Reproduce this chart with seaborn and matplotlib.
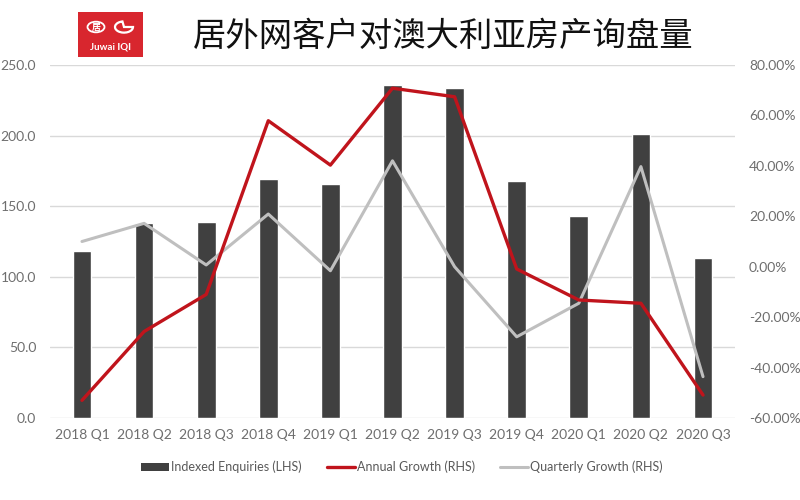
import numpy as np
import pandas as pd
import matplotlib
matplotlib.use("Agg")
import matplotlib.pyplot as plt
from matplotlib.patches import Rectangle, Patch, Circle, Wedge
from matplotlib.lines import Line2D
from matplotlib.ticker import FuncFormatter
import seaborn as sns

# ---- data ----
quarters = ["2018 Q1", "2018 Q2", "2018 Q3", "2018 Q4", "2019 Q1", "2019 Q2",
            "2019 Q3", "2019 Q4", "2020 Q1", "2020 Q2", "2020 Q3"]
indexed_enquiries = [118, 138, 139, 169, 165.5, 236, 234, 168, 143, 201, 113]
annual_growth = [-0.53, -0.257, -0.11, 0.579, 0.403, 0.708, 0.674, -0.009, -0.132, -0.145, -0.509]
quarterly_growth = [0.10, 0.172, 0.007, 0.209, -0.016, 0.42, 0.0, -0.278, -0.145, 0.397, -0.436]
left_ticks = [0, 50, 100, 150, 200, 250]
right_ticks = [-0.6, -0.4, -0.2, 0.0, 0.2, 0.4, 0.6, 0.8]
title = "居外网客户对澳大利亚房产询盘量"
legend_labels = ["Indexed Enquiries (LHS)", "Annual Growth (RHS)", "Quarterly Growth (RHS)"]

df = pd.DataFrame({"quarter": quarters, "enq": indexed_enquiries,
                   "annual": annual_growth, "qoq": quarterly_growth})

sns.set_theme(style="white")
plt.rcParams["font.family"] = ["Lato", "DejaVu Sans"]

BAR = "#404040"
RED = "#c0141c"
GREY = "#bfbfbf"
TXT = "#6e6e6e"
GRID = "#d9d9d9"

W, H = 800, 500
fig = plt.figure(figsize=(8, 5), dpi=100)
fig.patch.set_facecolor("white")
L, R, T, B = 50, 735, 65, 418
ax = fig.add_axes([L / W, 1 - B / H, (R - L) / W, (B - T) / H])

sns.barplot(data=df, x="quarter", y="enq", color=BAR, width=0.3, ax=ax,
            saturation=1, zorder=2)
ax.set_ylim(0, 250)
ax.set_yticks(left_ticks)
ax.yaxis.set_major_formatter(FuncFormatter(lambda v, p: f"{v:.1f}"))
ax.grid(axis="y", color=GRID, linewidth=1.0, zorder=0)
ax.set_axisbelow(True)
for s in ax.spines.values():
    s.set_visible(False)
ax.set_xlabel("")
ax.set_ylabel("")
ax.tick_params(axis="y", length=0, pad=10, labelsize=10, labelcolor=TXT)
ax.tick_params(axis="x", length=0, pad=8, labelsize=10, labelcolor=TXT)

ax2 = ax.twinx()
sns.pointplot(data=df, x="quarter", y="qoq", color=GREY, markers="", linewidth=2.2,
              ax=ax2, zorder=3)
sns.pointplot(data=df, x="quarter", y="annual", color=RED, markers="", linewidth=2.4,
              ax=ax2, zorder=4)
ax2.set_ylim(-0.6, 0.8)
ax2.set_yticks(right_ticks)
ax2.yaxis.set_major_formatter(FuncFormatter(lambda v, p: f"{v * 100:.2f}%"))
for s in ax2.spines.values():
    s.set_visible(False)
ax2.set_xlabel("")
ax2.set_ylabel("")
ax2.grid(False)
ax2.tick_params(axis="y", length=0, pad=10, labelsize=10, labelcolor=TXT)
ax2.tick_params(axis="x", length=0, labelbottom=False)
ax.set_xlim(-0.515, 10.515)
ax2.set_xlim(-0.515, 10.515)
ax.set_xticks(range(len(quarters)))
ax.set_xticklabels(quarters)

# title
fig.text(0.554, 0.928, title, ha="center", va="center", fontsize=24,
         color="#111111", family=["Noto Sans CJK SC", "DejaVu Sans"])

# logo
lx0, ly0, lw, lh = 78, 12, 65, 45
fig.patches.append(Rectangle((lx0 / W, 1 - (ly0 + lh) / H), lw / W, lh / H,
                             transform=fig.transFigure, facecolor="#d8262e",
                             edgecolor="none"))
fig.patches.append(Circle((96 / W, 1 - 27 / H), 8.5 / W, transform=fig.transFigure,
                          facecolor="none", edgecolor="white", linewidth=1.3))
fig.text(96 / W, 1 - 27 / H, "居", ha="center", va="center", fontsize=6.5,
         color="white", family=["Noto Sans CJK SC", "DejaVu Sans"], fontweight="bold")
fig.patches.append(Wedge((124 / W, 1 - 27 / H), 9 / W, 100, 360,
                         transform=fig.transFigure, facecolor="none",
                         edgecolor="white", linewidth=1.6))
fig.text(110.5 / W, 1 - 47 / H, "Juwai IQI", ha="center", va="center", fontsize=7,
         color="white", fontweight="bold")

# legend
handles = [Patch(facecolor=BAR, edgecolor="none"),
           Line2D([0], [0], color=RED, linewidth=2.4),
           Line2D([0], [0], color=GREY, linewidth=2.2)]
fig.legend(handles, legend_labels, loc="center", bbox_to_anchor=(0.5025, 0.066),
           ncol=3, frameon=False, fontsize=9, labelcolor="#595959",
           handlelength=2.25, handleheight=0.55, handletextpad=0.15, columnspacing=2.0)

fig.savefig("out.png", dpi=100, facecolor="white")
